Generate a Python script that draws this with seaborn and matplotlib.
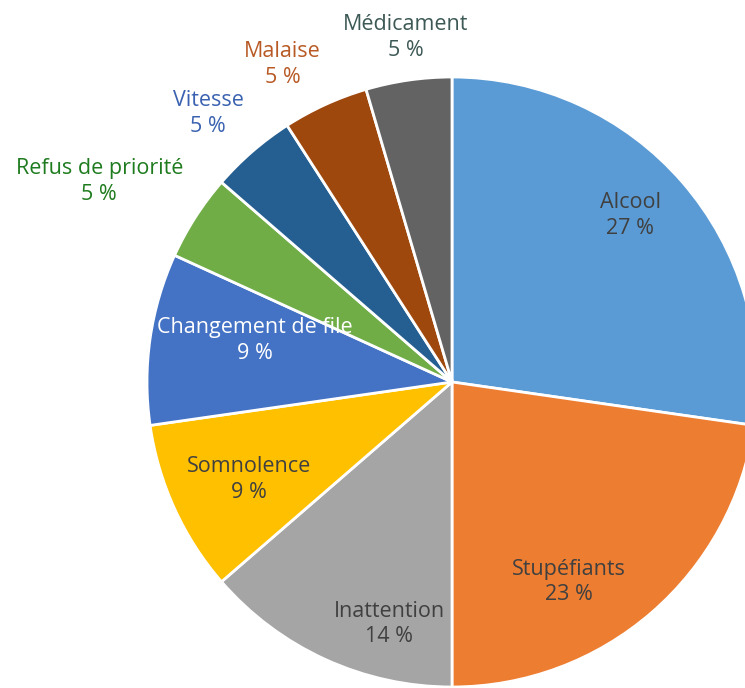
import numpy as np
import seaborn as sns
import matplotlib.pyplot as plt

# causes (clockwise from top), counts out of 22
causes = ["Alcool", "Stupéfiants", "Inattention", "Somnolence", "Changement de file",
          "Refus de priorité", "Vitesse", "Malaise", "Médicament"]
counts = [6, 5, 3, 2, 2, 1, 1, 1, 1]
pct_labels = ["27 %", "23 %", "14 %", "9 %", "9 %", "5 %", "5 %", "5 %", "5 %"]

colors = ["#5B9BD5", "#ED7D31", "#A5A5A5", "#FFC000", "#4472C4",
          "#70AD47", "#255E91", "#9E480E", "#636363"]
text_colors = ["#404040", "#404040", "#404040", "#404040", "white",
               "#1E7B1E", "#3A62B0", "#B85A25", "#3D5955"]
# label spot: (radius, angle in deg) relative to pie centre
label_pos = [(0.80, 43), (0.76, -59.6), (0.82, -104.6), (0.74, -154.3), (0.66, 168),
             (1.33, 150.4), (1.19, 132.2), (1.18, 118.1), (1.14, 97.7)]

sns.set_theme(style="white")
plt.rcParams['font.family'] = ['Open Sans', 'DejaVu Sans']

fig = plt.figure(figsize=(7.45, 6.88), dpi=100)
ax = fig.add_axes([0, 0, 1, 1])
ax.pie(counts, colors=colors, startangle=90, counterclock=False, radius=1,
       wedgeprops=dict(edgecolor="white", linewidth=2))

for name, pct, col, (r, a) in zip(causes, pct_labels, text_colors, label_pos):
    x, y = r * np.cos(np.radians(a)), r * np.sin(np.radians(a))
    ax.text(x, y, f"{name}\n{pct}", ha="center", va="center", color=col,
            fontsize=15.5, linespacing=1.3)

r_px = 305
ax.set_xlim(-452 / r_px, (745 - 452) / r_px)
ax.set_ylim(-(688 - 382) / r_px, 382 / r_px)
ax.set_aspect("equal")
ax.axis("off")

fig.savefig("out.png", dpi=100)
